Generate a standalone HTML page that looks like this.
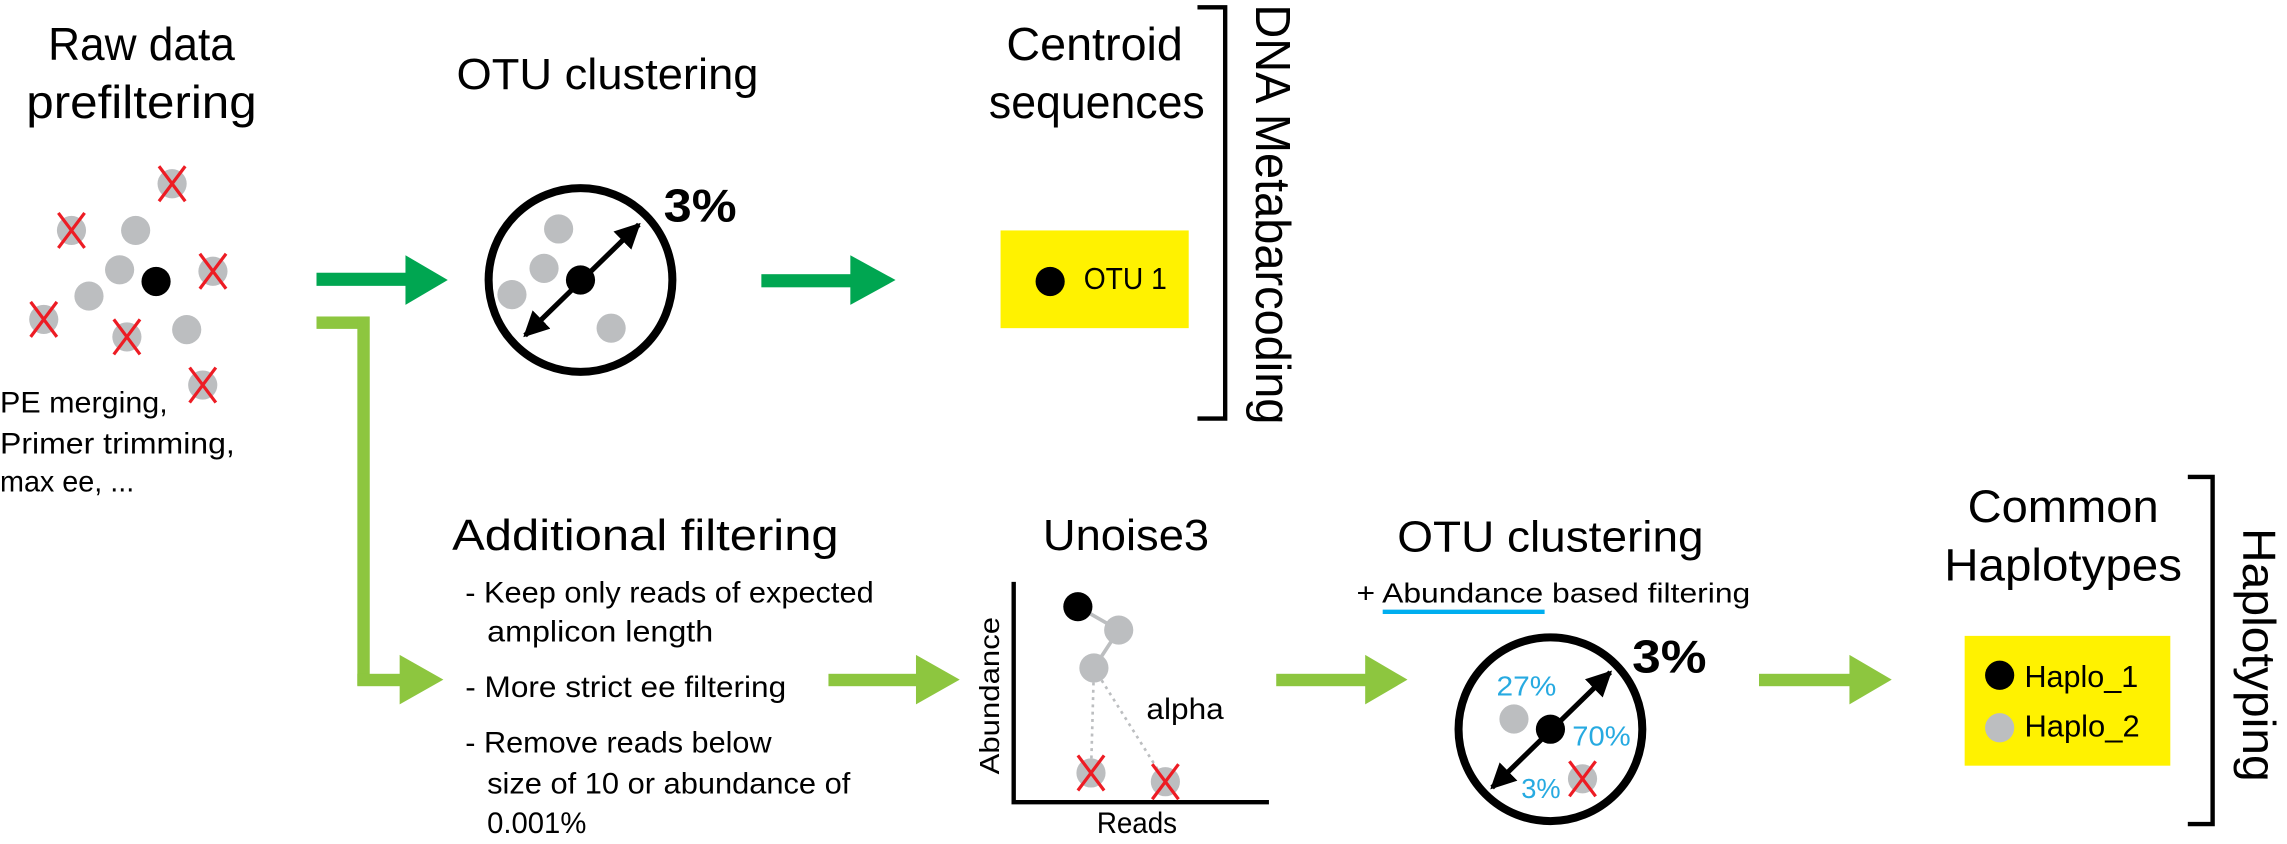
<!DOCTYPE html>
<html><head><meta charset="utf-8"><style>
html,body{margin:0;padding:0;background:#fff;}
svg{display:block;}
text{font-family:"Liberation Sans",sans-serif;fill:#000;}
</style></head><body>
<svg width="2287" height="844" viewBox="0 0 1568 578.7" preserveAspectRatio="none" xmlns="http://www.w3.org/2000/svg">
<defs>
<marker id="ah" viewBox="0 0 10 10" refX="9" refY="5" markerWidth="5" markerHeight="5" orient="auto-start-reverse" markerUnits="strokeWidth">
<path d="M0,0 L10,5 L0,10 Z" fill="#000"/>
</marker>
</defs>

<!-- Raw data prefiltering -->
<text x="33" y="41" font-size="32" textLength="128" lengthAdjust="spacingAndGlyphs">Raw data</text>
<text x="18" y="81" font-size="32" textLength="158" lengthAdjust="spacingAndGlyphs">prefiltering</text>
<g fill="#bcbec0">
<circle cx="118" cy="126" r="10"/><circle cx="49" cy="158" r="10"/><circle cx="93" cy="158" r="10"/>
<circle cx="82" cy="185" r="10"/><circle cx="146" cy="186" r="10"/><circle cx="61" cy="203" r="10"/>
<circle cx="30" cy="219" r="10"/><circle cx="87" cy="231" r="10"/><circle cx="128" cy="226" r="10"/>
<circle cx="139" cy="264" r="10"/>
</g>
<circle cx="107" cy="193" r="10" fill="#000"/>
<g stroke="#ed1c24" stroke-width="2.2">
<path d="M109,114 L127,138 M127,114 L109,138"/>
<path d="M40,146 L58,170 M58,146 L40,170"/>
<path d="M137,174 L155,198 M155,174 L137,198"/>
<path d="M21,207 L39,231 M39,207 L21,231"/>
<path d="M78,219 L96,243 M96,219 L78,243"/>
<path d="M130,252 L148,276 M148,252 L130,276"/>
</g>
<text x="0" y="283" font-size="20" textLength="115" lengthAdjust="spacingAndGlyphs">PE merging,</text>
<text x="0" y="311" font-size="20" textLength="161" lengthAdjust="spacingAndGlyphs">Primer trimming,</text>
<text x="0" y="337" font-size="20" textLength="92" lengthAdjust="spacingAndGlyphs">max ee, ...</text>

<!-- dark green arrows -->
<g fill="#00a651">
<rect x="217" y="187" width="62" height="9"/><path d="M278,175 L307,192 L278,209 Z"/>
<rect x="522" y="188" width="62" height="9"/><path d="M583,175 L614,192 L583,209 Z"/>
</g>

<!-- OTU clustering top -->
<text x="313" y="61" font-size="30" textLength="207" lengthAdjust="spacingAndGlyphs">OTU clustering</text>
<circle cx="398" cy="192" r="63" fill="none" stroke="#000" stroke-width="5.5"/>
<g fill="#bcbec0">
<circle cx="383" cy="157" r="10"/><circle cx="373" cy="184" r="10"/><circle cx="351" cy="202" r="10"/><circle cx="419" cy="225" r="10"/>
</g>
<circle cx="398" cy="192" r="10" fill="#000"/>
<line x1="360" y1="230" x2="438" y2="154" stroke="#000" stroke-width="3.5" marker-start="url(#ah)" marker-end="url(#ah)"/>
<text x="455" y="152" font-size="32" font-weight="bold" textLength="50" lengthAdjust="spacingAndGlyphs">3%</text>

<!-- Centroid sequences -->
<text x="690" y="41" font-size="32" textLength="121" lengthAdjust="spacingAndGlyphs">Centroid</text>
<text x="678" y="81" font-size="32" textLength="148" lengthAdjust="spacingAndGlyphs">sequences</text>
<rect x="686" y="158" width="129" height="67" fill="#fff200"/>
<circle cx="720" cy="193" r="10" fill="#000"/>
<text x="743" y="198" font-size="21" textLength="57" lengthAdjust="spacingAndGlyphs">OTU 1</text>
<path d="M821,5 L840,5 L840,287 L821,287" fill="none" stroke="#000" stroke-width="3"/>
<text transform="translate(861,3) rotate(90)" font-size="34" textLength="288" lengthAdjust="spacingAndGlyphs">DNA Metabarcoding</text>

<!-- light green L and arrows -->
<g fill="#8dc63f">
<rect x="217" y="217" width="36" height="8.5"/>
<rect x="245" y="217" width="8.5" height="253"/>
<rect x="245" y="462" width="30" height="8.5"/>
<path d="M274,449 L304,466 L274,483 Z"/>
<rect x="568" y="462" width="62" height="8.5"/><path d="M628,449 L658,466 L628,483 Z"/>
<rect x="875" y="462" width="62" height="8.5"/><path d="M936,449 L965,466 L936,483 Z"/>
<rect x="1206" y="462" width="63" height="8.5"/><path d="M1268,449 L1297,466 L1268,483 Z"/>
</g>

<!-- Additional filtering -->
<text x="310" y="377" font-size="30" textLength="265" lengthAdjust="spacingAndGlyphs">Additional filtering</text>
<text x="319" y="413" font-size="20" textLength="280" lengthAdjust="spacingAndGlyphs">- Keep only reads of expected</text>
<text x="334" y="440" font-size="20" textLength="155" lengthAdjust="spacingAndGlyphs">amplicon length</text>
<text x="319" y="478" font-size="20" textLength="220" lengthAdjust="spacingAndGlyphs">- More strict ee filtering</text>
<text x="319" y="516" font-size="20" textLength="210" lengthAdjust="spacingAndGlyphs">- Remove reads below</text>
<text x="334" y="544" font-size="20" textLength="249" lengthAdjust="spacingAndGlyphs">size of 10 or abundance of</text>
<text x="334" y="571" font-size="20" textLength="68" lengthAdjust="spacingAndGlyphs">0.001%</text>

<!-- Unoise3 -->
<text x="715" y="377" font-size="30" textLength="114" lengthAdjust="spacingAndGlyphs">Unoise3</text>
<path d="M695,399 L695,550 L870,550" fill="none" stroke="#000" stroke-width="3"/>
<text transform="translate(685,531) rotate(-90)" font-size="19" textLength="108" lengthAdjust="spacingAndGlyphs">Abundance</text>
<text x="752" y="571" font-size="20" textLength="55" lengthAdjust="spacingAndGlyphs">Reads</text>
<path d="M739,416 L767,432 L750,458" stroke="#bcbec0" stroke-width="2.5" fill="none"/>
<path d="M750,458 L748,530 M750,458 L799,536" stroke="#bcbec0" stroke-width="1.8" stroke-dasharray="2,3" fill="none"/>
<g fill="#bcbec0">
<circle cx="767" cy="432" r="10"/><circle cx="750" cy="458" r="10"/><circle cx="748" cy="530" r="10"/><circle cx="799" cy="536" r="10"/>
</g>
<circle cx="739" cy="416" r="10" fill="#000"/>
<g stroke="#ed1c24" stroke-width="2.2">
<path d="M739,518 L757,542 M757,518 L739,542"/>
<path d="M790,524 L808,548 M808,524 L790,548"/>
</g>
<text x="786" y="493" font-size="20" textLength="53" lengthAdjust="spacingAndGlyphs">alpha</text>

<!-- OTU clustering bottom -->
<text x="958" y="378" font-size="30" textLength="210" lengthAdjust="spacingAndGlyphs">OTU clustering</text>
<text x="930" y="413" font-size="19" textLength="270" lengthAdjust="spacingAndGlyphs">+ Abundance based filtering</text>
<rect x="948" y="418" width="111" height="3" fill="#00aeef"/>
<circle cx="1063" cy="500" r="63" fill="none" stroke="#000" stroke-width="5.5"/>
<circle cx="1038" cy="493" r="10" fill="#bcbec0"/>
<circle cx="1085" cy="534" r="10" fill="#bcbec0"/>
<path d="M1076,522 L1094,546 M1094,522 L1076,546" stroke="#ed1c24" stroke-width="2.2"/>
<circle cx="1063" cy="500" r="10" fill="#000"/>
<line x1="1023" y1="540" x2="1104" y2="461" stroke="#000" stroke-width="3.5" marker-start="url(#ah)" marker-end="url(#ah)"/>
<text x="1026" y="477" font-size="19" textLength="41" lengthAdjust="spacingAndGlyphs" style="fill:#27aae1">27%</text>
<text x="1078" y="511" font-size="19" textLength="40" lengthAdjust="spacingAndGlyphs" style="fill:#27aae1">70%</text>
<text x="1043" y="547" font-size="19" textLength="27" lengthAdjust="spacingAndGlyphs" style="fill:#27aae1">3%</text>
<text x="1119" y="461" font-size="32" font-weight="bold" textLength="51" lengthAdjust="spacingAndGlyphs">3%</text>

<!-- Common Haplotypes -->
<text x="1349" y="358" font-size="31" textLength="131" lengthAdjust="spacingAndGlyphs">Common</text>
<text x="1333" y="398" font-size="31" textLength="163" lengthAdjust="spacingAndGlyphs">Haplotypes</text>
<rect x="1347" y="436" width="141" height="89" fill="#fff200"/>
<circle cx="1371" cy="463" r="10" fill="#000"/>
<circle cx="1371" cy="499" r="10" fill="#bcbec0"/>
<text x="1388" y="471" font-size="21" textLength="78" lengthAdjust="spacingAndGlyphs">Haplo_1</text>
<text x="1388" y="505" font-size="21" textLength="79" lengthAdjust="spacingAndGlyphs">Haplo_2</text>
<path d="M1500,327 L1517,327 L1517,565 L1500,565" fill="none" stroke="#000" stroke-width="3"/>
<text transform="translate(1538,362) rotate(90)" font-size="32" textLength="174" lengthAdjust="spacingAndGlyphs">Haplotyping</text>
</svg>
</body></html>
